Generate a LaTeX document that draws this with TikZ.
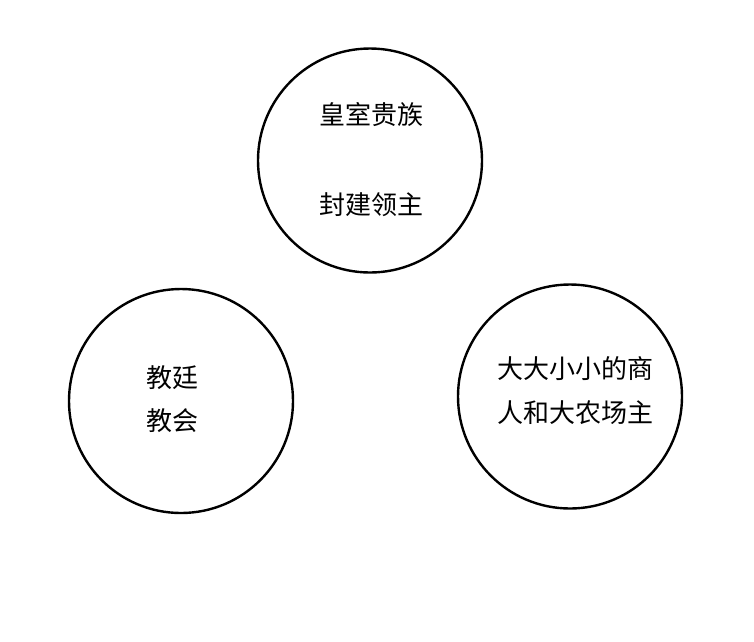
\documentclass[tikz,border=0pt]{standalone}
\usepackage{fontspec}
\setmainfont{Noto Sans CJK SC}
\begin{document}
\begin{tikzpicture}[x=1pt,y=-1pt,
  ring/.style={draw=black,line width=2.4pt,circle,minimum size=224pt,inner sep=0pt},
  lbl/.style={font=\fontsize{26}{26}\selectfont,inner sep=0pt,anchor=center}]
\useasboundingbox (0,0) rectangle (754,641);
\node[ring] (top) at (370,160.5) {};
\node[ring] (left) at (181,401) {};
\node[ring] (right) at (570,396.5) {};
\node[lbl] (t1) at (371,115) {皇室贵族};
\node[lbl] (t2) at (371,205) {封建领主};
\node[lbl] (l1) at (172,378) {教廷};
\node[lbl] (l2) at (172,421) {教会};
\node[lbl] (r1) at (575,369) {大大小小的商};
\node[lbl] (r2) at (575,413) {人和大农场主};
\end{tikzpicture}
\end{document}
